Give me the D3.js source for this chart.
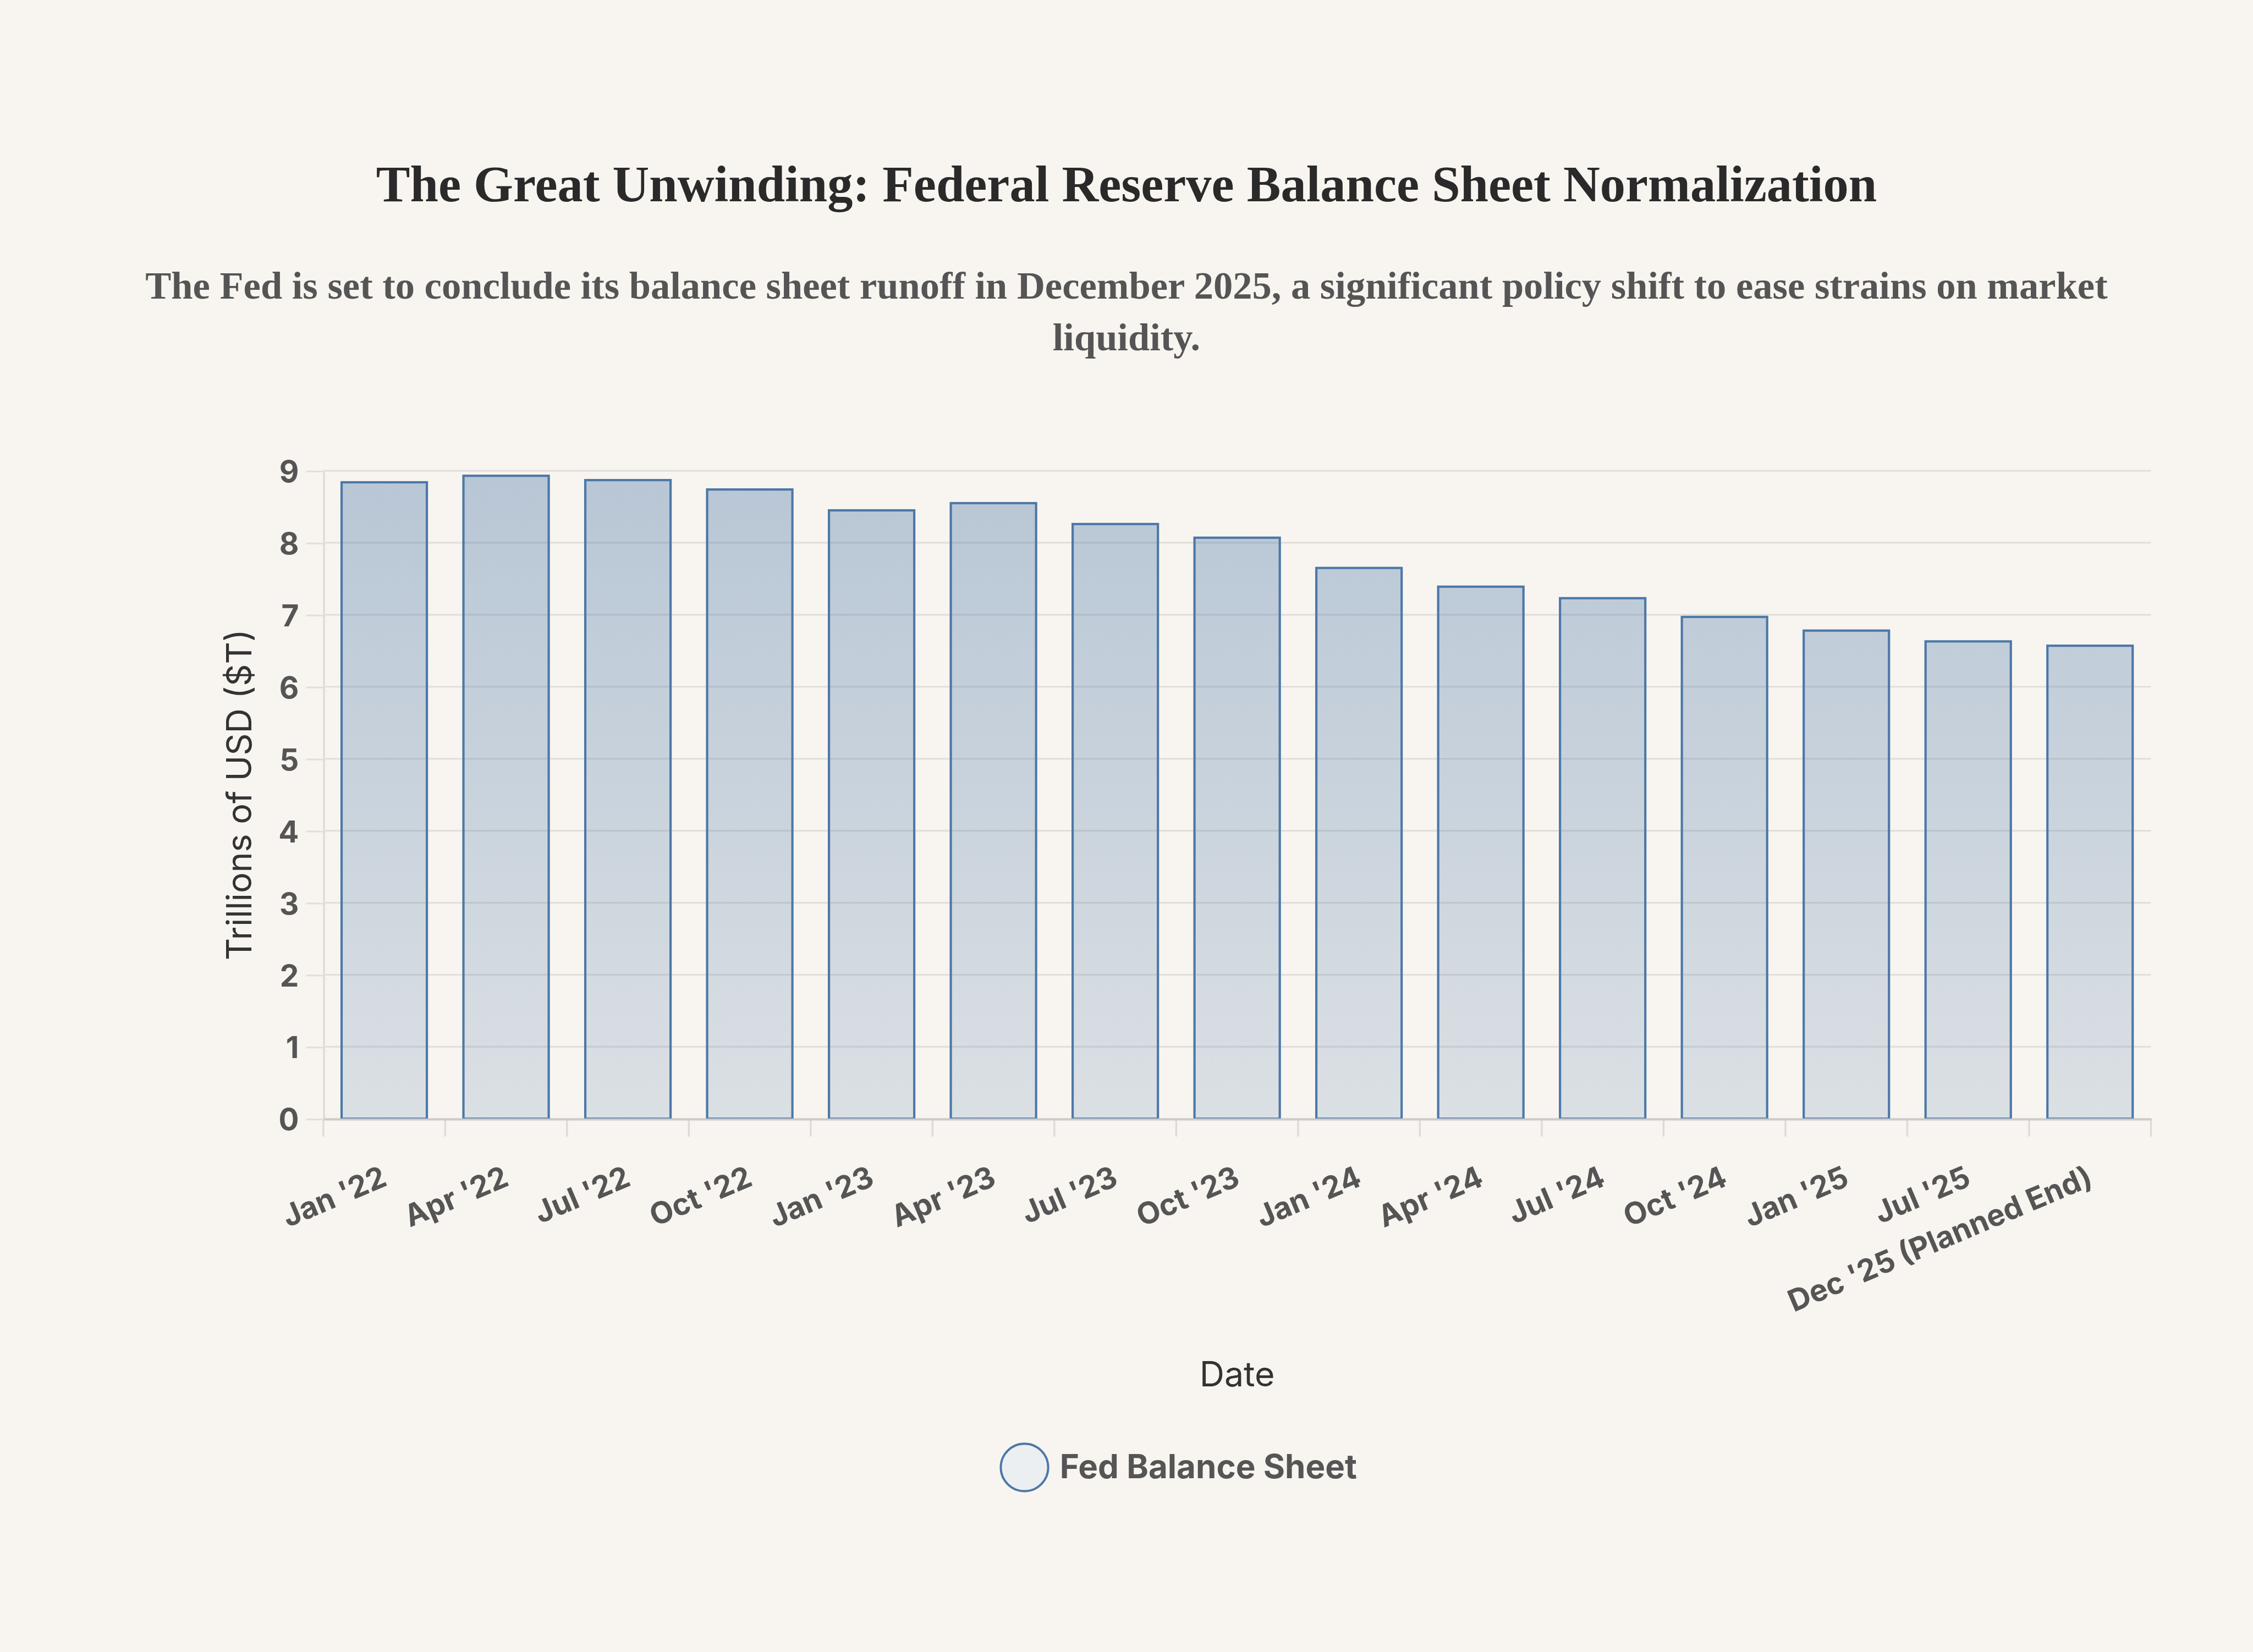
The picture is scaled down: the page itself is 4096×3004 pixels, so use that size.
<!DOCTYPE html>
<html>
<head>
<meta charset="utf-8">
<script src="https://cdn.jsdelivr.net/npm/d3@7"></script>
<style>
  html, body { margin: 0; padding: 0; background: #f8f5f0; }
  svg { display: block; }
</style>
</head>
<body>
<svg id="chart"></svg>
<script>
var categories = ["Jan '22", "Apr '22", "Jul '22", "Oct '22", "Jan '23", "Apr '23", "Jul '23", "Oct '23",
                  "Jan '24", "Apr '24", "Jul '24", "Oct '24", "Jan '25", "Jul '25", "Dec '25 (Planned End)"]
var values = [8.84, 8.93, 8.87, 8.74, 8.45, 8.55, 8.26, 8.07, 7.65, 7.39, 7.23, 6.97, 6.78, 6.63, 6.57]
var yTicks = [0, 1, 2, 3, 4, 5, 6, 7, 8, 9]

var title = "The Great Unwinding: Federal Reserve Balance Sheet Normalization"
var subtitle = ["The Fed is set to conclude its balance sheet runoff in December 2025, a significant policy shift to ease strains on market",
                "liquidity."]
var seriesName = "Fed Balance Sheet"

// drawing is done in a 1568x1150 frame, scaled up to the window
var W = 1568, H = 1150
var margin = {left: 225, right: 71, top: 327.7, bottom: 371.2}
var blue = "#4c78a8", grid = "#e2dfda"
var sans = "Inter, 'Liberation Sans', sans-serif"
var serif = "'Liberation Serif', serif"

var svg = d3.select("#chart")
  .attr("width", 4096).attr("height", 3004)
  .attr("viewBox", "0 0 " + W + " " + H)

svg.append("rect").attr("width", W).attr("height", H).attr("fill", "#f8f5f0")

var x = d3.scaleBand()
  .domain(categories)
  .range([margin.left, W - margin.right])
  .paddingInner(0.3)
  .paddingOuter(0.15)

var y = d3.scaleLinear()
  .domain([0, 9])
  .range([H - margin.bottom, margin.top])

var grad = svg.append("defs").append("linearGradient")
  .attr("id", "barFill")
  .attr("gradientUnits", "userSpaceOnUse")
  .attr("x1", 0).attr("x2", 0)
  .attr("y1", y(9)).attr("y2", y(0))
grad.append("stop").attr("offset", 0).attr("stop-color", blue).attr("stop-opacity", 0.375)
grad.append("stop").attr("offset", 1).attr("stop-color", blue).attr("stop-opacity", 0.17)

// titles
svg.append("text")
  .attr("x", W / 2).attr("y", 140)
  .attr("text-anchor", "middle")
  .attr("font-family", serif).attr("font-weight", "bold")
  .attr("font-size", 35.4).attr("fill", "#2a2a2a")
  .text(title)

svg.append("text")
  .attr("text-anchor", "middle")
  .attr("font-family", serif).attr("font-weight", "bold")
  .attr("font-size", 27).attr("fill", "#555")
  .selectAll("tspan")
  .data(subtitle)
  .enter().append("tspan")
  .attr("x", W / 2)
  .attr("y", function(d, i) { return 208 + i * 36 })
  .text(function(d) { return d })

// y axis with gridlines
var yAxis = svg.append("g")
  .attr("transform", "translate(" + margin.left + ",0)")
  .call(d3.axisLeft(y).tickValues(yTicks).tickSize(12).tickPadding(5).tickSizeOuter(0))
yAxis.select(".domain").attr("stroke", "#dedbd6").attr("stroke-width", 1.3)
yAxis.selectAll(".tick line").attr("stroke", grid).attr("stroke-width", 1.2)
yAxis.selectAll(".tick text")
  .attr("dy", "0.36em")
  .attr("font-family", sans).attr("font-weight", "bold")
  .attr("font-size", 21).attr("fill", "#555")

svg.append("g")
  .selectAll("line")
  .data(yTicks)
  .enter().append("line")
  .attr("x1", margin.left).attr("x2", W - margin.right)
  .attr("y1", function(d) { return y(d) })
  .attr("y2", function(d) { return y(d) })
  .attr("stroke", grid).attr("stroke-width", 1.2)

// bars
svg.append("g")
  .selectAll("rect")
  .data(values)
  .enter().append("rect")
  .attr("x", function(d, i) { return x(categories[i]) })
  .attr("width", x.bandwidth())
  .attr("y", function(d) { return y(d) })
  .attr("height", function(d) { return y(0) - y(d) })
  .attr("fill", "url(#barFill)")
  .attr("stroke", blue).attr("stroke-width", 1.6)

// x axis: ticks on band edges, labels on band centres
var half = (x.step() - x.bandwidth()) / 2
var edges = categories.map(function(c) { return x(c) - half })
edges.push(x(categories[categories.length - 1]) + x.bandwidth() + half)

svg.append("g")
  .selectAll("line")
  .data(edges)
  .enter().append("line")
  .attr("x1", function(d) { return d }).attr("x2", function(d) { return d })
  .attr("y1", y(0)).attr("y2", y(0) + 12.4)
  .attr("stroke", "#dedbd6").attr("stroke-width", 1.3)

var xAxis = svg.append("g")
  .attr("transform", "translate(0," + y(0) + ")")
  .call(d3.axisBottom(x).tickSize(0).tickSizeOuter(0))
xAxis.select(".domain").attr("stroke", "#cbcbcb").attr("stroke-width", 1.4)
xAxis.selectAll(".tick text")
  .attr("x", 0).attr("y", 0).attr("dy", 0)
  .attr("text-anchor", "end")
  .attr("transform", "translate(3,46) rotate(-23)")
  .attr("font-family", sans).attr("font-weight", "bold")
  .attr("font-size", 21).attr("fill", "#555")

// axis titles
svg.append("text")
  .attr("transform", "translate(175," + (y(0) + y(9)) / 2 + ") rotate(-90)")
  .attr("text-anchor", "middle")
  .attr("font-family", sans).attr("font-size", 24).attr("fill", "#333")
  .text("Trillions of USD ($T)")

svg.append("text")
  .attr("x", (margin.left + W - margin.right) / 2).attr("y", 965)
  .attr("text-anchor", "middle")
  .attr("font-family", sans).attr("font-size", 24).attr("fill", "#333")
  .text("Date")

// legend
var legend = svg.append("g").attr("transform", "translate(713,1021.5)")
legend.append("circle")
  .attr("r", 16.5)
  .attr("fill", "#eceff2")
  .attr("stroke", blue).attr("stroke-width", 1.5)
legend.append("text")
  .attr("x", 24.6).attr("y", 7.6)
  .attr("font-family", sans).attr("font-weight", "bold")
  .attr("font-size", 23).attr("fill", "#555")
  .text(seriesName)
</script>
</body>
</html>
